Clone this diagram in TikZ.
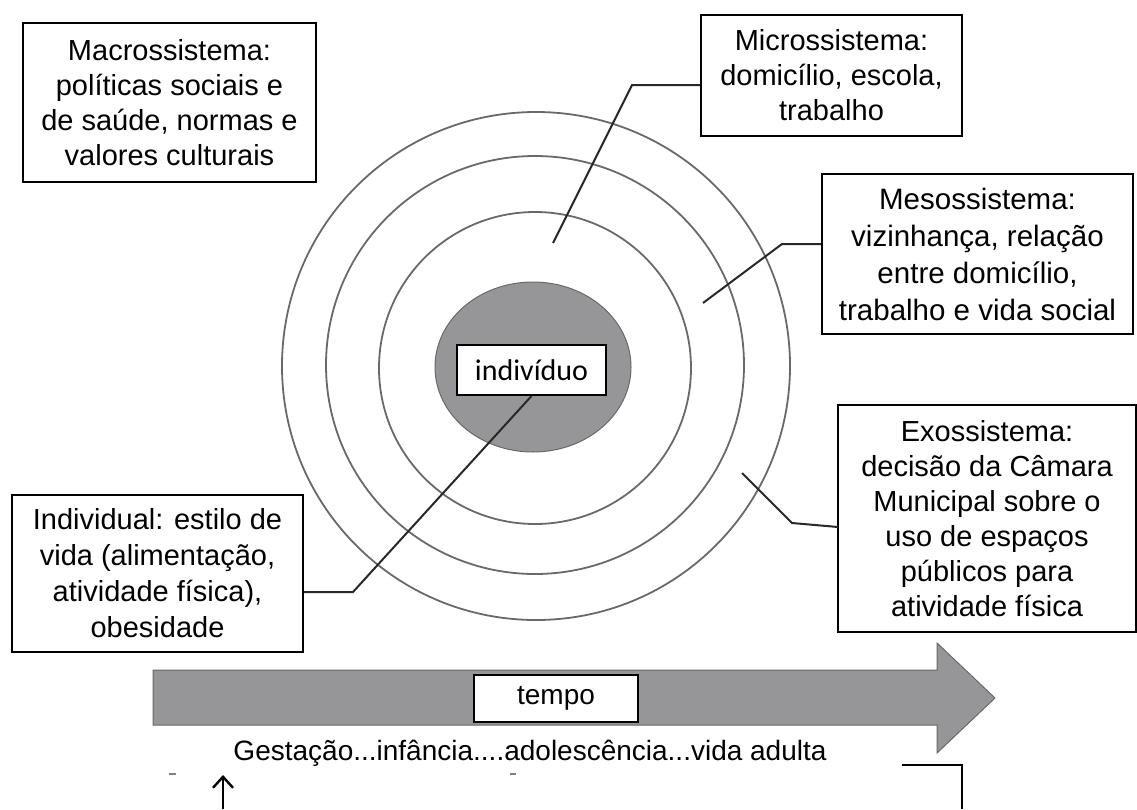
\documentclass[tikz,border=0pt]{standalone}
\usepackage{fontspec}
\setmainfont{Liberation Sans}
\newfontfamily\calibrifont{Carlito}
\usetikzlibrary{arrows.meta}
\definecolor{fillgray}{RGB}{150,150,152}
\definecolor{ringgray}{RGB}{105,105,105}
\definecolor{leadgray}{RGB}{40,40,40}
\tikzset{
  labelbox/.style={draw=black, line width=2pt, fill=white, align=center, inner sep=0pt,
    font=\fontsize{29}{35}\selectfont},
  ring/.style={draw=ringgray, line width=1.8pt},
  leader/.style={draw=leadgray, line width=2pt},
}
\begin{document}
\begin{tikzpicture}[x=1pt,y=-1pt]
\useasboundingbox (0,0) rectangle (1137,809);
% rings
\draw[ring] (536,366) circle [radius=254];
\draw[ring] (535,365) circle [radius=209];
\draw[ring] (535,368) circle [radius=156];
\fill[fillgray, draw=ringgray, line width=1pt] (533,367) ellipse [x radius=98, y radius=85];
% nodes
\node[labelbox, minimum width=293pt, minimum height=159pt] (macro) at (169.5,102.5)
  {Macrossistema:\\políticas sociais e\\de saúde, normas e\\valores culturais};
\node[labelbox, minimum width=261pt, minimum height=121pt] (micro) at (831.5,75.5)
  {Microssistema:\\domicílio, escola,\\trabalho};
\node[labelbox, line width=1.7pt, minimum width=311pt, minimum height=160pt, font=\fontsize{29.5}{37}\selectfont] (meso) at (977.5,254)
  {Mesossistema:\\vizinhança, relação\\entre domicílio,\\trabalho e vida social};
\node[labelbox, line width=1.7pt, minimum width=298pt, minimum height=227pt] (exo) at (987,518.5)
  {Exossistema:\\decisão da Câmara\\Municipal sobre o\\uso de espaços\\públicos para\\atividade física};
\node[labelbox, minimum width=291pt, minimum height=157pt, font=\fontsize{29}{36}\selectfont] (indiv) at (157.5,573.5)
  {Individual: estilo de\\vida (alimentação,\\atividade física),\\obesidade};
\node[labelbox, minimum width=149pt, minimum height=50pt, font=\calibrifont\fontsize{30}{36}\selectfont] (ind) at (531.5,370)
  {indivíduo};
% leader lines
\coordinate (m1) at (632,85);
\coordinate (m2) at (553,243);
\draw[leader] (micro.west |- m1) -- (m1) -- (m2);
\coordinate (s1) at (782,244);
\coordinate (s2) at (703,303);
\draw[leader] (meso.west |- s1) -- (s1) -- (s2);
\coordinate (e1) at (792,523);
\coordinate (e2) at (742,473);
\draw[leader] (838,527) -- (e1) -- (e2);
\coordinate (i1) at (353,592);
\draw[leader] (indiv.east |- i1) -- (i1) -- (ind.south);
% time arrow
\fill[fillgray, draw=ringgray, line width=1pt]
  (153,670) -- (937,670) -- (937,643) -- (995,698) -- (937,753) -- (937,725) -- (153,725) -- cycle;
\node[labelbox, minimum width=164pt, minimum height=47pt, font=\fontsize{28}{34}\selectfont] (tempo) at (556,698.5) {tempo};
\node[anchor=base, inner sep=0pt, font=\fontsize{28}{34}\selectfont] (fases) at (530,760)
  {Gestação...infância....adolescência...vida adulta};
% bottom fragments
\draw[gray, line width=1.2pt] (169,774) -- (176,774);
\draw[gray, line width=1.2pt] (510,774) -- (516,774);
\coordinate (a0) at (223,809);
\coordinate (a1) at (223,775);
\draw[line width=2.4pt, -{Straight Barb[length=11pt,width=20pt,line width=2.4pt]}] (a0) -- (a1);
\coordinate (c0) at (902,765);
\coordinate (c1) at (962,765);
\coordinate (c2) at (962,809);
\draw[line width=2.4pt] (c0) -- (c1) -- (c2);
\end{tikzpicture}
\end{document}
